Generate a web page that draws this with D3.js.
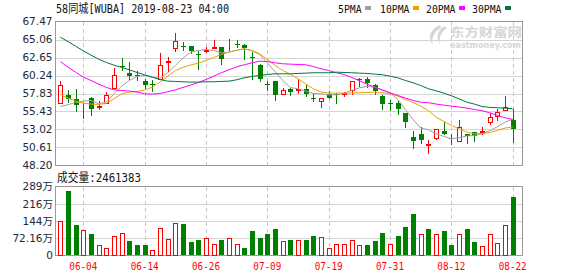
<!DOCTYPE html>
<html>
<head>
<meta charset="utf-8">
<script src="https://cdn.jsdelivr.net/npm/d3@7"></script>
<style>
  body { margin: 0; background: #fff; }
  svg { display: block; }
</style>
</head>
<body>
<div id="chart"></div>
<script>
// trading days shown (MM-DD), 2019-05-30 .. 2019-08-22
const dates = ["05-30","05-31","06-03","06-04","06-05","06-06","06-07","06-10","06-11","06-12","06-13","06-14",
  "06-17","06-18","06-19","06-20","06-21","06-24","06-25","06-26","06-27","06-28","07-01","07-02",
  "07-03","07-05","07-08","07-09","07-10","07-11","07-12","07-15","07-16","07-17","07-18","07-19",
  "07-22","07-23","07-24","07-25","07-26","07-29","07-30","07-31","08-01","08-02","08-05","08-06",
  "08-07","08-08","08-09","08-12","08-13","08-14","08-15","08-16","08-19","08-20","08-21","08-22"];

const open = [56.51,57.62,57.04,56.40,57.22,56.06,56.60,58.60,61.54,60.56,60.34,59.49,
  59.13,59.71,62.07,63.86,64.17,64.17,63.10,63.46,63.95,64.00,64.30,64.48,
  64.35,62.70,61.59,59.05,59.49,57.71,58.47,58.29,58.42,57.22,56.86,57.71,
  57.71,57.71,58.24,59.76,59.80,58.91,57.49,56.60,56.60,55.26,52.01,52.41,
  50.94,51.92,52.81,51.83,51.52,52.41,52.68,52.68,54.06,54.81,55.66,54.32];
const high = [59.49,58.24,58.38,56.55,57.35,56.77,58.02,61.23,62.57,62.03,60.83,59.80,
  59.67,63.23,62.70,65.91,64.70,64.17,63.46,64.04,64.93,64.08,65.15,64.93,
  64.44,63.37,61.81,59.45,59.49,58.56,58.60,59.80,59.00,57.71,57.18,58.16,
  57.89,58.02,59.54,59.94,60.03,59.05,57.58,56.99,56.91,55.26,52.81,53.30,
  51.56,53.08,54.01,52.41,54.23,52.41,52.68,53.39,55.26,55.70,57.49,55.70];
const low = [56.51,56.68,55.44,54.59,54.99,55.79,56.60,58.60,60.92,59.71,59.58,58.56,
  58.20,59.71,60.83,63.46,63.59,63.28,61.18,63.37,63.95,61.81,63.68,64.04,
  62.39,59.71,59.45,58.33,56.95,57.71,57.58,57.93,57.44,56.82,56.06,57.26,
  56.60,57.49,57.80,58.87,58.69,57.80,55.70,55.66,55.13,53.39,50.58,51.25,
  49.87,51.74,52.45,51.07,51.52,51.25,51.52,52.41,53.79,54.23,55.66,51.34];
const close = [58.91,57.09,56.24,56.46,55.79,56.19,57.58,60.25,61.41,60.16,60.12,58.91,
  58.91,61.59,62.16,64.84,64.08,63.50,62.97,63.72,64.04,62.39,64.39,64.39,
  63.95,62.57,59.71,58.96,57.58,58.24,57.98,58.38,57.80,57.13,57.18,57.26,
  57.62,57.84,59.54,59.67,59.27,58.16,56.37,56.46,55.70,53.97,51.43,51.65,
  51.03,53.08,52.45,51.74,53.39,52.14,52.10,52.81,54.68,55.30,55.97,53.12];

const volume = [1436000,2703000,1267000,1084000,887000,451000,324000,831000,957000,591000,422000,422000,
  239000,1169000,704000,1380000,1309000,549000,634000,746000,465000,634000,746000,493000,
  296000,1014000,718000,887000,1098000,591000,634000,634000,634000,803000,788000,324000,
  493000,493000,662000,451000,422000,591000,929000,493000,803000,1183000,1732000,887000,
  1098000,915000,1014000,422000,887000,1098000,549000,408000,887000,507000,1267000,2461383];

// moving averages as drawn on the chart
const ma5 = [56.10,56.33,56.64,56.82,56.91,56.46,56.68,57.80,58.82,59.58,60.12,60.25,
  59.98,59.89,60.60,61.59,62.57,63.37,63.59,63.72,63.59,63.28,63.37,63.63,
  63.81,63.55,63.06,61.94,60.78,59.58,58.64,58.47,58.16,57.84,57.80,57.66,
  57.66,57.89,58.24,58.60,58.78,58.69,58.33,57.93,57.04,55.70,54.37,53.21,
  52.99,52.45,52.10,51.78,51.92,52.14,52.23,52.45,52.85,53.39,54.01,54.37];
const ma10 = [57.70,57.22,56.82,56.55,56.42,56.37,56.51,57.13,57.80,58.02,58.11,58.29,
  58.69,59.36,60.15,60.90,61.35,61.65,61.90,62.25,62.65,63.06,63.37,63.63,
  63.81,63.59,63.14,62.39,61.59,60.92,60.43,59.80,59.13,58.47,58.02,57.89,
  57.89,57.89,57.89,57.93,57.98,58.02,57.93,57.80,57.49,57.04,56.64,56.15,
  55.57,54.68,54.10,53.57,53.12,52.68,52.45,52.45,52.63,52.90,53.21,53.34];
const ma20 = [62.12,61.36,60.69,60.03,59.58,59.09,58.65,58.33,58.24,58.16,58.02,57.80,
  57.75,57.84,58.07,58.33,58.65,58.96,59.31,59.71,60.16,60.61,61.01,61.41,
  61.68,61.94,62.16,62.12,61.94,61.81,61.76,61.72,61.68,61.45,61.14,60.92,
  60.61,60.38,59.98,59.54,59.09,58.69,58.29,57.93,57.58,57.22,56.91,56.68,
  56.60,56.42,56.28,56.15,56.02,55.88,55.70,55.53,55.26,54.90,54.59,54.37];
const ma30 = [65.37,64.79,64.17,63.55,62.97,62.43,61.99,61.63,61.32,61.01,60.65,60.34,
  60.03,59.71,59.49,59.45,59.40,59.36,59.36,59.40,59.40,59.45,59.49,59.67,
  59.94,60.12,60.25,60.38,60.47,60.47,60.47,60.52,60.56,60.61,60.61,60.61,
  60.69,60.65,60.61,60.56,60.52,60.43,60.34,60.16,59.94,59.58,59.27,58.91,
  58.47,58.20,57.89,57.53,57.13,56.68,56.42,56.10,55.97,55.93,55.88,55.79];

const priceTicks = [48.20,50.61,53.02,55.43,57.83,60.24,62.65,65.06,67.47];
const volTicks = [0,721600,1443200,2164800,2886400];
const volTickLabels = ["0","72.16万","144万","216万","289万"];
const dateTicks = ["06-04","06-14","06-26","07-09","07-19","07-31","08-12","08-22"];

const maNames = ["5PMA","10PMA","20PMA","30PMA"];
const maColors = ["#a0a0a0","#f0a000","#ff00ff","#00773c"];

const RED = "#ff0000", GREEN = "#008000";
const GRID = "#d4d4d4", BORDER = "#999";
const MONO = "'DejaVu Sans Mono','Noto Sans CJK SC',monospace";
const SANS = "'DejaVu Sans','Noto Sans CJK SC',sans-serif";

const left = 55.5, right = 522.5;
const pTop = 21.5, pBot = 165.5, vTop = 186.5, vBot = 255.5;

const svg = d3.select("#chart").append("svg")
  .attr("width", 578).attr("height", 276)
  .style("background", "#fff");

const x = d3.scalePoint().domain(dates).range([60.3, 512.7]);
const y = d3.scaleLinear().domain([48.20, 67.47]).range([pBot, pTop]);
const vy = d3.scaleLinear().domain([0, 2886400]).range([vBot, vTop]);

const cx = i => Math.round(x(dates[i]));
const idx = d3.range(dates.length);
const rise = i => close[i] > open[i];
const volUp = i => i === 0 ? rise(0) : close[i] >= close[i - 1];

// grid
const grid = svg.append("g").attr("shape-rendering", "crispEdges");
grid.selectAll("line.h").data(priceTicks.slice(1, -1)).join("line")
  .attr("x1", left).attr("x2", right)
  .attr("y1", d => Math.round(y(d)) + 0.5).attr("y2", d => Math.round(y(d)) + 0.5)
  .attr("stroke", GRID);
grid.selectAll("line.vh").data(volTicks.slice(1, -1)).join("line")
  .attr("x1", left).attr("x2", right)
  .attr("y1", d => Math.round(vy(d)) + 0.5).attr("y2", d => Math.round(vy(d)) + 0.5)
  .attr("stroke", GRID);
[[pTop, pBot], [vTop, vBot]].forEach(([t, b]) => {
  grid.append("g").selectAll("line").data(dateTicks).join("line")
    .attr("x1", d => Math.round(x(d)) + 0.5).attr("x2", d => Math.round(x(d)) + 0.5)
    .attr("y1", t).attr("y2", b)
    .attr("stroke", "#c8c8c8").attr("stroke-dasharray", "4,3");
});

// watermark
const wm = svg.append("g").attr("fill", "#d6d6d6");
wm.append("path")
  .attr("d", "M440,25 C430,29 427,37 433,45 C431,38 434,32 441,28 Z M444,26 C437,31 436,38 440,44 C439,37 441,32 447,28 Z");
wm.append("text").attr("x", 450).attr("y", 36.5)
  .attr("font-family", "'Noto Sans CJK SC'").attr("font-size", 12.5).attr("font-weight", "bold")
  .attr("textLength", 72).attr("lengthAdjust", "spacingAndGlyphs").text("东方财富网");
wm.append("text").attr("x", 450).attr("y", 47.5)
  .attr("font-family", "'DejaVu Sans'").attr("font-size", 8).attr("font-weight", "bold")
  .attr("textLength", 71).attr("lengthAdjust", "spacingAndGlyphs").text("eastmoney.com");

// panel borders
svg.append("g").attr("fill", "none").attr("stroke", BORDER).attr("shape-rendering", "crispEdges")
  .selectAll("rect").data([[pTop, pBot], [vTop, vBot]]).join("rect")
  .attr("x", left).attr("y", d => d[0]).attr("width", right - left).attr("height", d => d[1] - d[0]);

// candles
const candles = svg.append("g").attr("shape-rendering", "crispEdges")
  .selectAll("g").data(idx).join("g");
candles.append("line")
  .attr("x1", i => cx(i) + 0.5).attr("x2", i => cx(i) + 0.5)
  .attr("y1", i => Math.round(y(high[i]))).attr("y2", i => Math.round(y(low[i])) + 1)
  .attr("stroke", i => rise(i) ? RED : GREEN);
candles.filter(i => rise(i)).append("rect")
  .attr("x", i => cx(i) - 1.5).attr("width", 4)
  .attr("y", i => Math.round(y(close[i])) + 0.5)
  .attr("height", i => Math.max(Math.round(y(open[i])) - Math.round(y(close[i])), 0))
  .attr("fill", "#fff").attr("stroke", RED);
candles.filter(i => !rise(i)).append("rect")
  .attr("x", i => cx(i) - 2).attr("width", 5)
  .attr("y", i => Math.round(y(open[i])))
  .attr("height", i => Math.max(Math.round(y(close[i])) - Math.round(y(open[i])), 1))
  .attr("fill", GREEN);

// moving averages
const line = d3.line().x((d, i) => x(dates[i])).y(d => y(d));
[ma5, ma10, ma20, ma30].forEach((s, k) => {
  svg.append("path").datum(s)
    .attr("d", line).attr("fill", "none")
    .attr("stroke", maColors[k]).attr("stroke-width", 1);
});

// volume bars
svg.append("g").attr("shape-rendering", "crispEdges")
  .selectAll("rect").data(idx).join("rect")
  .each(function (i) {
    const r = d3.select(this);
    const top = Math.round(vy(volume[i]));
    if (volUp(i)) {
      r.attr("x", cx(i) - 1.5).attr("width", 4).attr("y", top + 0.5)
        .attr("height", vBot - 0.5 - top - 0.5).attr("fill", "#fff").attr("stroke", RED);
    } else {
      r.attr("x", cx(i) - 2).attr("width", 5).attr("y", top)
        .attr("height", vBot - 0.5 - top).attr("fill", GREEN);
    }
  });

// axis labels
svg.append("g").selectAll("text").data(priceTicks).join("text")
  .attr("x", 52.5).attr("y", d => y(d)).attr("dy", "0.36em")
  .attr("text-anchor", "end").attr("font-family", SANS).attr("font-size", 10.5)
  .attr("fill", "#1e2a3a").text(d => d.toFixed(2));
svg.append("g").selectAll("text").data(volTicks).join("text")
  .attr("x", 53).attr("y", d => vy(d)).attr("dy", "0.36em")
  .attr("text-anchor", "end").attr("font-family", SANS).attr("font-size", 10.5)
  .attr("fill", "#1e2a3a").text((d, i) => volTickLabels[i]);
svg.append("g").selectAll("text").data(dateTicks).join("text")
  .attr("x", d => x(d)).attr("y", 270)
  .attr("text-anchor", "middle").attr("font-family", MONO).attr("font-size", 11)
  .attr("textLength", 28).attr("lengthAdjust", "spacingAndGlyphs")
  .attr("fill", RED).text(d => d);

// header
svg.append("text").attr("x", 56).attr("y", 13)
  .attr("font-family", MONO).attr("font-size", 12)
  .attr("textLength", 173).attr("lengthAdjust", "spacingAndGlyphs")
  .attr("fill", "#111").text("58同城[WUBA] 2019-08-23 04:00");

// legend
const legX = [338, 380, 426, 472];
const legSw = [365, 413, 459, 505];
const leg = svg.append("g");
maNames.forEach((n, k) => {
  leg.append("text").attr("x", legX[k]).attr("y", 12.5)
    .attr("font-family", MONO).attr("font-size", 11)
    .attr("textLength", n.length * 5.9).attr("lengthAdjust", "spacingAndGlyphs")
    .attr("fill", "#111").text(n);
  leg.append("rect").attr("x", legSw[k]).attr("y", 6).attr("width", 6).attr("height", 4)
    .attr("fill", maColors[k]);
});

// volume caption
svg.append("text").attr("x", 57).attr("y", 181.5)
  .attr("font-family", MONO).attr("font-size", 12)
  .attr("textLength", 84).attr("lengthAdjust", "spacingAndGlyphs")
  .attr("fill", "#111").text("成交量:" + volume[volume.length - 1]);
</script>
</body>
</html>
